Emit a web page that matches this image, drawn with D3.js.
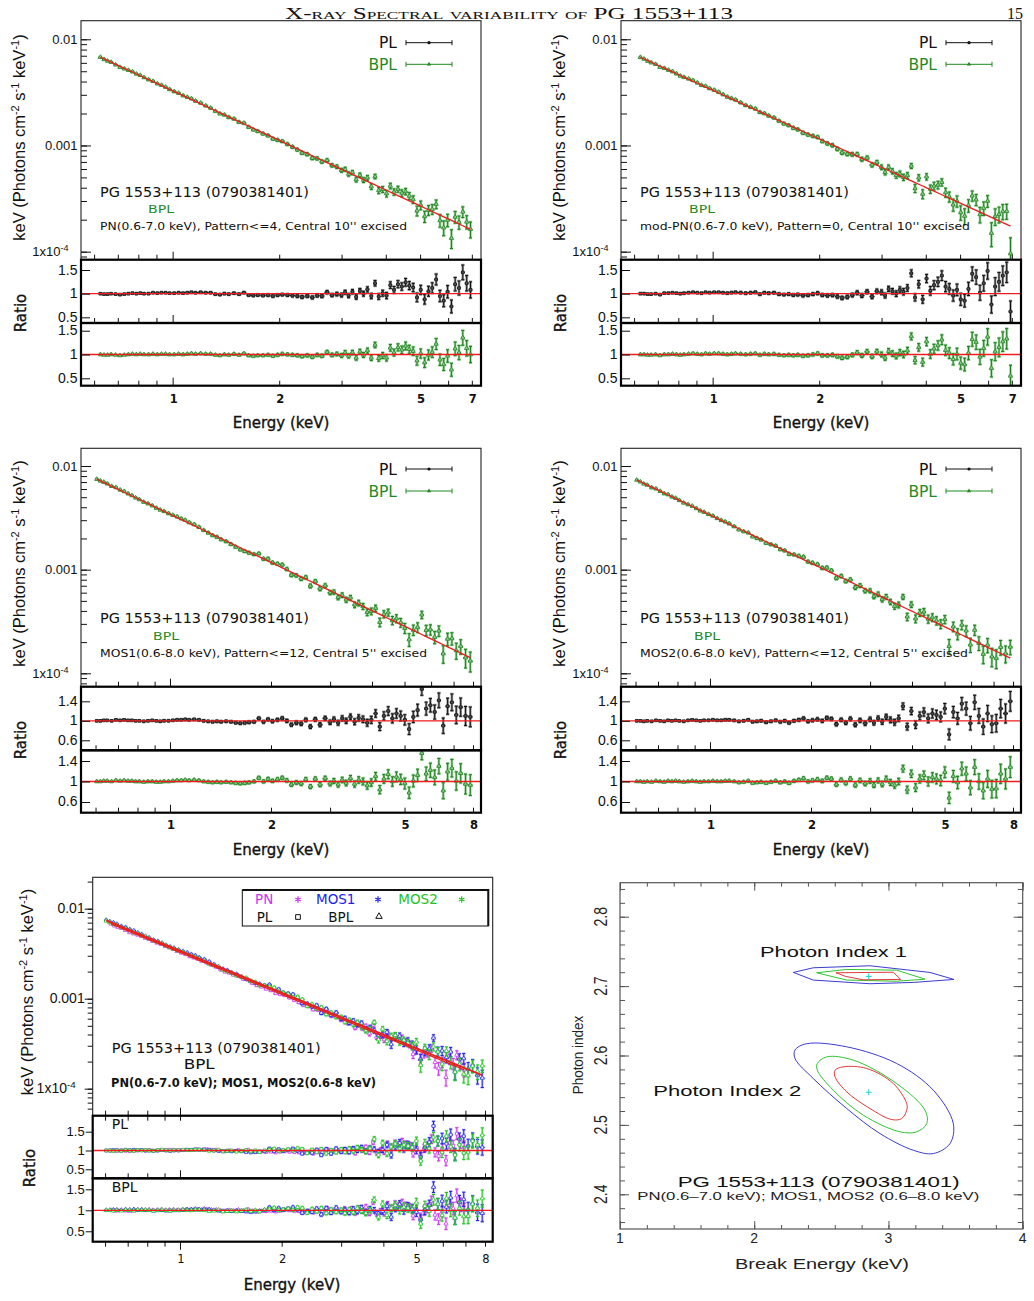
<!DOCTYPE html>
<html>
<head>
<meta charset="utf-8">
<script src="https://cdn.jsdelivr.net/npm/d3@7"></script>
<style>
  body { margin: 0; background: #fff; }
</style>
</head>
<body>
<svg id="fig" width="1034" height="1301"></svg>
<script>

// ---------------------------
// DATA
// ---------------------------

// bin centres (keV)
const lowPnE = [0.625,0.64,0.655,0.67,0.69,0.71,0.73,0.75,0.77,0.79,0.81,0.83,0.855,0.88,0.905,0.93,0.955,0.98,1.01,1.04,1.07,1.10,1.13,1.16,1.20,1.24,1.28,1.32,1.36,1.40,1.44,1.49,1.54,1.59,1.64,1.69,1.74,1.80,1.86,1.92,1.98,2.04,2.11,2.18,2.25,2.32,2.40,2.48,2.56,2.64,2.73,2.82,2.91];
const hiPnE = [3.00,3.07,3.14,3.22,3.30,3.38,3.46,3.55,3.64,3.73,3.82,3.92,4.02,4.12,4.22,4.33,4.44,4.55,4.66,4.78,4.90,5.02,5.15,5.28,5.41,5.55,5.69,5.83,5.98,6.13,6.28,6.44,6.60,6.77,6.94];
const lowMosE = [0.605,0.62,0.635,0.65,0.67,0.69,0.71,0.73,0.75,0.77,0.79,0.81,0.835,0.86,0.885,0.91,0.935,0.96,0.99,1.02,1.05,1.08,1.11,1.14,1.18,1.22,1.26,1.30,1.34,1.38,1.42,1.47,1.52,1.57,1.62,1.67,1.72,1.78,1.84,1.90,1.96,2.02,2.09,2.16,2.23,2.30,2.38,2.46,2.54,2.62,2.71,2.80,2.90];
const hiMosE = [3.00,3.08,3.17,3.26,3.35,3.45,3.55,3.65,3.76,3.87,3.98,4.10,4.22,4.34,4.47,4.60,4.73,4.87,5.01,5.16,5.31,5.47,5.63,5.80,5.97,6.15,6.33,6.52,6.72,6.92,7.13,7.35,7.60,7.85];
const pnE = lowPnE.concat(hiPnE);
const mosE = lowMosE.concat(hiMosE);

// data/model ratios
const pnRatioPL = [1.00,0.99,0.99,1.00,0.99,0.98,0.99,1.00,1.01,1.00,1.01,1.00,1.00,1.02,1.01,1.02,1.02,1.01,1.01,1.02,1.01,1.02,1.03,1.02,1.03,1.02,1.02,0.99,0.98,1.00,0.99,1.01,0.99,1.02,0.97,0.96,0.97,0.96,0.97,0.95,0.97,0.98,0.97,0.96,0.95,0.93,0.95,0.92,0.96,0.95,1.03,0.97,0.99,
  0.97,1.03,0.96,1.04,0.93,1.06,1.00,1.09,0.95,1.22,0.94,1.01,0.96,1.18,1.08,1.20,1.15,1.24,1.17,1.13,0.92,1.08,0.88,1.05,1.12,1.30,0.95,0.85,1.04,0.73,1.20,1.12,1.45,1.22,1.08];
const pnRatioBPL = [1.00,0.99,0.99,1.00,0.99,0.98,0.99,1.00,1.01,1.00,1.01,1.00,1.00,1.01,1.00,1.01,1.01,1.00,1.00,1.01,1.00,1.01,1.02,1.01,1.02,1.01,1.01,0.99,0.98,1.00,0.99,1.01,0.99,1.02,0.98,0.97,0.98,0.98,0.99,0.97,0.99,1.01,1.00,0.99,0.98,0.96,0.98,0.95,0.99,0.97,1.05,0.99,1.01,
  0.98,1.04,0.97,1.04,0.93,1.06,0.99,1.08,0.93,1.20,0.92,0.98,0.93,1.14,1.04,1.15,1.10,1.18,1.11,1.07,0.87,1.02,0.83,0.99,1.05,1.22,0.89,0.79,0.97,0.68,1.12,1.04,1.35,1.13,1.00];
const modPnRatioPL = [1.00,1.00,0.99,0.99,1.00,0.98,1.01,1.01,1.02,1.01,1.00,1.01,1.02,1.03,1.02,1.01,1.03,1.02,1.03,1.03,1.02,1.01,1.02,1.03,1.02,1.01,1.02,1.03,0.99,1.02,1.01,1.02,0.99,0.98,0.99,0.97,0.98,0.96,0.97,0.99,1.01,0.97,0.96,0.97,0.94,0.91,0.93,0.97,1.02,0.96,1.04,0.94,1.05,
  1.03,0.96,1.10,1.05,1.00,1.08,1.04,1.12,1.43,0.92,1.20,0.88,1.32,1.06,1.18,1.25,1.38,1.15,1.10,0.96,1.08,0.88,0.85,1.10,1.42,1.35,1.02,1.22,1.48,0.77,1.15,1.25,1.38,1.45,0.62];
const modPnRatioBPL = [1.00,1.00,0.99,0.99,1.00,0.98,1.00,1.00,1.01,1.00,0.99,1.00,1.01,1.02,1.01,1.00,1.02,1.01,1.02,1.02,1.01,1.00,1.01,1.02,1.01,1.00,1.01,1.02,0.99,1.01,1.00,1.01,0.99,0.98,0.99,0.98,0.99,0.97,0.98,1.00,1.02,0.98,0.98,0.99,0.96,0.93,0.95,0.99,1.04,0.98,1.06,0.96,1.06,
  1.00,0.93,1.07,1.02,0.97,1.04,1.00,1.08,1.38,0.88,1.15,0.84,1.27,1.01,1.12,1.19,1.31,1.09,1.03,0.90,1.01,0.82,0.79,1.03,1.32,1.26,0.95,1.13,1.37,0.71,1.06,1.15,1.27,1.33,0.55];
const mos1RatioPL = [1.00,1.00,1.01,1.01,1.00,1.02,1.01,1.02,1.01,1.01,1.00,1.00,0.99,1.00,1.01,1.00,0.99,1.00,1.00,1.01,1.02,1.02,1.03,1.02,1.03,1.02,1.00,0.99,0.98,0.99,0.98,0.99,0.98,0.96,0.95,0.96,0.97,0.98,1.05,0.98,1.03,0.99,1.02,1.05,1.00,0.92,0.96,0.94,1.02,0.88,1.03,0.92,1.05,
  0.97,1.03,0.96,1.05,1.00,1.08,0.98,1.06,1.03,0.96,1.02,1.15,0.88,1.10,1.20,1.05,1.15,1.10,1.02,0.83,1.08,1.22,1.65,1.25,1.32,1.18,1.42,0.90,1.30,1.38,1.12,1.28,1.10,1.08];
const mos1RatioBPL = [1.00,1.00,1.01,1.01,1.00,1.02,1.01,1.02,1.01,1.01,1.00,1.00,0.99,1.00,1.00,0.99,0.99,1.00,1.00,1.01,1.02,1.02,1.03,1.02,1.03,1.02,1.00,0.99,0.98,0.99,0.98,0.99,0.98,0.97,0.96,0.97,0.98,1.00,1.07,1.00,1.05,1.01,1.04,1.07,1.02,0.94,0.98,0.96,1.04,0.90,1.05,0.94,1.06,
  0.96,1.01,0.94,1.03,0.97,1.06,0.95,1.03,1.00,0.92,0.98,1.10,0.84,1.05,1.14,1.00,1.09,1.04,0.96,0.78,1.01,1.12,1.55,1.15,1.22,1.08,1.30,0.82,1.19,1.26,1.01,1.16,0.95,0.93];
const mos2RatioPL = [1.00,1.00,0.99,1.00,0.99,1.01,1.00,0.99,1.01,1.00,1.01,1.00,0.99,1.01,1.02,1.01,1.00,1.01,1.01,1.02,1.01,1.01,1.02,1.02,1.01,0.99,1.00,1.02,0.98,0.99,1.00,0.97,0.99,1.01,0.98,1.00,0.96,1.00,1.02,1.05,0.99,1.01,1.03,1.00,1.06,1.04,0.93,1.02,0.96,1.04,0.92,1.01,0.95,
  1.03,0.96,1.05,0.98,1.08,1.02,0.97,1.05,1.30,0.88,1.20,0.92,1.10,1.18,1.05,1.15,1.12,1.08,1.25,0.72,1.18,1.05,1.35,1.25,0.95,1.38,1.10,0.88,1.15,0.93,0.95,1.25,1.15,1.40];
const mos2RatioBPL = [1.00,1.00,0.99,1.00,0.99,1.01,1.00,0.99,1.01,1.00,1.01,1.00,0.99,1.00,1.01,1.00,0.99,1.00,1.00,1.01,1.00,1.00,1.01,1.01,1.00,0.98,0.99,1.01,0.97,0.98,0.99,0.97,0.99,1.01,0.98,1.00,0.97,1.01,1.03,1.06,1.00,1.02,1.04,1.01,1.07,1.05,0.94,1.03,0.97,1.05,0.93,1.02,0.96,
  1.01,0.93,1.02,0.95,1.05,0.98,0.93,1.00,1.25,0.84,1.15,0.88,1.05,1.12,1.00,1.08,1.05,1.02,1.18,0.68,1.10,0.98,1.25,1.15,0.88,1.28,1.00,0.82,1.05,0.85,0.86,1.15,1.05,1.28];

// 1-sigma errors on the ratios
const pnErr = [0.010,0.010,0.010,0.010,0.010,0.010,0.010,0.011,0.011,0.011,0.011,0.011,0.012,0.012,0.012,0.012,0.012,0.012,0.012,0.013,0.013,0.013,0.014,0.014,0.014,0.015,0.015,0.015,0.016,0.016,0.016,0.017,0.017,0.018,0.018,0.019,0.020,0.021,0.022,0.023,0.024,0.025,0.026,0.027,0.028,0.029,0.030,0.031,0.032,0.033,0.034,0.035,0.037,
  0.040,0.042,0.044,0.046,0.048,0.050,0.052,0.054,0.056,0.058,0.060,0.063,0.066,0.069,0.072,0.075,0.078,0.081,0.084,0.088,0.092,0.096,0.100,0.105,0.110,0.115,0.120,0.125,0.130,0.136,0.142,0.148,0.155,0.162,0.170];
const modPnErr = [0.012,0.012,0.012,0.012,0.012,0.012,0.013,0.013,0.013,0.013,0.014,0.014,0.014,0.014,0.015,0.015,0.015,0.015,0.015,0.016,0.016,0.017,0.017,0.018,0.018,0.019,0.019,0.020,0.020,0.021,0.021,0.022,0.022,0.023,0.024,0.025,0.026,0.027,0.028,0.029,0.030,0.031,0.032,0.033,0.034,0.035,0.036,0.038,0.040,0.041,0.043,0.045,0.047,
  0.050,0.052,0.055,0.058,0.060,0.063,0.066,0.069,0.072,0.075,0.078,0.082,0.086,0.090,0.094,0.098,0.102,0.107,0.112,0.117,0.122,0.127,0.133,0.139,0.145,0.151,0.158,0.165,0.172,0.180,0.188,0.196,0.205,0.214,0.224];
const mosErr = [0.011,0.011,0.011,0.011,0.011,0.011,0.011,0.012,0.012,0.012,0.012,0.012,0.013,0.013,0.013,0.013,0.013,0.014,0.014,0.014,0.015,0.015,0.015,0.016,0.016,0.017,0.017,0.018,0.018,0.019,0.019,0.020,0.020,0.021,0.022,0.023,0.024,0.025,0.026,0.027,0.028,0.029,0.030,0.031,0.032,0.033,0.034,0.035,0.036,0.038,0.039,0.041,0.043,
  0.045,0.047,0.049,0.052,0.054,0.057,0.060,0.063,0.066,0.069,0.072,0.076,0.080,0.084,0.088,0.092,0.096,0.100,0.105,0.110,0.115,0.120,0.126,0.132,0.138,0.144,0.150,0.157,0.164,0.171,0.178,0.186,0.194,0.202];

// fitted model (red line): E*F(E) at 1 keV and log-log slope, per camera
const modelNames = ["PN", "mod-PN", "MOS1", "MOS2"];
const modelNormAt1keV = [0.00327, 0.00331, 0.00343, 0.00337];
const modelSlope = [-1.55, -1.52, -1.547, -1.543];

// tick labels
const pnTickLabels = [1, 2, 5, 7];
const mosTickLabels = [1, 2, 5, 8];
const specTickLabels = [0.01, 0.001, 0.0001];
const ratioTicksWide = [0.5, 1, 1.5];
const ratioTicksNarrow = [0.6, 1, 1.4];

// confidence contours [break energy, photon index]; red 68%, green 90%, blue 99%
const index1Red = [[2.609,2.7192],[3.036,2.720],[3.091,2.7096],[2.813,2.7091],[2.68,2.714]];
const index1Green = [[2.465,2.7192],[2.689,2.724],[3.061,2.723],[3.272,2.710],[3.061,2.707],[2.689,2.7087]];
const index1Blue = [[2.291,2.7197],[2.44,2.7264],[2.862,2.7293],[3.309,2.7197],[3.488,2.7096],[3.185,2.7053],[2.862,2.7034],[2.44,2.7087]];
const index2Red = [[2.602,2.5788],[2.664,2.5837],[2.838,2.5813],[3.036,2.5596],[3.136,2.5308],[3.136,2.5212],[3.098,2.5091],[3.024,2.5077],[2.862,2.5236],[2.689,2.5476],[2.602,2.5692]];
const index2Green = [[2.470,2.5885],[2.540,2.598],[2.738,2.5933],[3.061,2.5596],[3.272,2.5212],[3.285,2.5019],[3.210,2.49],[3.086,2.49],[2.813,2.5139],[2.589,2.55],[2.470,2.5788]];
const index2Blue = [[2.304,2.608],[2.391,2.617],[2.689,2.6125],[3.061,2.5885],[3.334,2.55],[3.483,2.502],[3.458,2.473],[3.334,2.4587],[3.185,2.4635],[2.937,2.4875],[2.689,2.5236],[2.44,2.5668],[2.304,2.5957]];
const bestBreakE = [2.853, 2.853];
const bestGamma = [2.714, 2.547];
const contourXTicks = [1, 2, 3, 4];
const contourYTicks = [2.4, 2.5, 2.6, 2.7, 2.8];


// ---------------------------
// HELPERS
// ---------------------------

const svg = d3.select("#fig");
const SANS = "'DejaVu Sans', sans-serif";
const ARIAL = "'Liberation Sans', Arial, sans-serif";
const GREEN = "#1e7e1e";
const RED = "#ee1c1c";

const model = k => e => modelNormAt1keV[k] * Math.pow(e, modelSlope[k]);

// points with bin edges half way (in log) between neighbouring centres
const buildPoints = (E, vals, errs, m) => E.map((e, i) => {
    const prev = i > 0 ? E[i - 1] : e * e / E[i + 1];
    const next = i < E.length - 1 ? E[i + 1] : e * e / E[i - 1];
    const f = m ? m(e) : 1;
    return {
        e, lo: Math.sqrt(prev * e), hi: Math.sqrt(e * next),
        v: vals[i] * f, vLo: (vals[i] - errs[i]) * f, vHi: (vals[i] + errs[i]) * f
    };
});

const drawErrPoints = (g, x, y, pts, st) => {
    const path = d => {
        const xe = x(d.e), yt = y(d.vHi), yb = y(d.vLo), c = 1.6;
        return `M${x(d.lo)},${y(d.v)}H${x(d.hi)}M${xe},${yt}V${yb}` +
            `M${xe - c},${yt}H${xe + c}M${xe - c},${yb}H${xe + c}`;
    };
    if (st.halo) {
        g.append("g").selectAll("path").data(pts).join("path")
            .attr("d", path).attr("fill", "none")
            .attr("stroke", st.halo).attr("stroke-width", 2.6)
            .attr("stroke-opacity", st.haloOpacity || 1);
    }
    g.append("g").selectAll("path").data(pts).join("path")
        .attr("d", path).attr("fill", "none")
        .attr("stroke", st.color).attr("stroke-width", 1);
    g.append("g").selectAll("path").data(pts).join("path")
        .attr("transform", d => `translate(${x(d.e)},${y(d.v)})`)
        .attr("d", d3.symbol(st.symbol, st.size)())
        .attr("fill", st.fill).attr("stroke", st.color).attr("stroke-width", 0.7);
};

const label = (g, o) => {
    const t = g.append("text")
        .attr("x", o.x).attr("y", o.y)
        .attr("font-family", o.font || SANS)
        .attr("font-size", o.size)
        .attr("fill", o.color || "#111")
        .attr("text-anchor", o.anchor || "start")
        .text(o.text);
    if (o.weight) t.attr("font-weight", o.weight);
    if (o.len) t.attr("textLength", o.len).attr("lengthAdjust", "spacingAndGlyphs");
    if (o.heavy) t.attr("stroke", o.color || "#111").attr("stroke-width", o.heavy);
    return t;
};

const tickAxis = (g, axis, transform) => {
    const a = g.append("g").attr("transform", transform).call(axis);
    a.select(".domain").remove();
    a.selectAll("text").remove();
    a.selectAll("line").attr("stroke", "#111").attr("stroke-width", 1);
    return a;
};

const fluxTitle = (g, x, y) => {
    const t = g.append("text")
        .attr("transform", `translate(${x},${y}) rotate(-90)`)
        .attr("text-anchor", "middle")
        .attr("font-family", ARIAL).attr("font-size", 16.5).attr("fill", "#111");
    const parts = [["keV (Photons cm", 0], ["-2", 1], [" s", 0], ["-1", 1], [" keV", 0], ["-1", 1], [")", 0]];
    let prev = 0;
    parts.forEach(([s, sup]) => {
        t.append("tspan").attr("dy", (sup - prev) * -6).attr("font-size", sup ? 11 : 16.5).text(s);
        prev = sup;
    });
};

const rotTitle = (g, x, y, text, size) => {
    g.append("text")
        .attr("transform", `translate(${x},${y}) rotate(-90)`)
        .attr("text-anchor", "middle")
        .attr("font-family", SANS).attr("font-size", size).attr("fill", "#111")
        .attr("stroke", "#111").attr("stroke-width", 0.35)
        .text(text);
};


// ---------------------------
// SPECTRUM + RATIO PANEL
// ---------------------------

const drawSpectrumPanel = (p) => {

    const g = svg.append("g");
    const w = p.right - p.left;

    const x = d3.scaleLog().domain(p.xDomain).range([p.left, p.right]);
    const yS = d3.scaleLog().domain(p.specDomain).range([p.specBottom, p.top]);
    const yR1 = d3.scaleLinear().domain(p.r1Domain).range([p.r1Bottom, p.specBottom]);
    const yR2 = d3.scaleLinear().domain(p.r2Domain).range([p.r2Bottom, p.r1Bottom]);

    // clip boxes
    const boxes = [[p.top, p.specBottom], [p.specBottom, p.r1Bottom], [p.r1Bottom, p.r2Bottom]];
    const layers = boxes.map((b, i) => {
        svg.append("clipPath").attr("id", `${p.id}-clip${i}`)
            .append("rect").attr("x", p.left).attr("y", b[0])
            .attr("width", w).attr("height", b[1] - b[0]);
        return g.append("g").attr("clip-path", `url(#${p.id}-clip${i})`);
    });

    // spectrum points and model
    p.sets.forEach(s => drawErrPoints(layers[0], x, yS, buildPoints(s.E, s.bpl, s.err, model(s.model)), s.specStyle));
    p.sets.forEach(s => {
        const m = model(s.model);
        layers[0].append("path").datum(s.E)
            .attr("d", d3.line().x(d => x(d)).y(d => yS(m(d))))
            .attr("fill", "none").attr("stroke", RED).attr("stroke-width", 1.3);
    });

    // ratios
    [[layers[1], yR1, "pl", "plStyle"], [layers[2], yR2, "bpl", "bplStyle"]].forEach(([layer, yR, key, st]) => {
        p.sets.forEach(s => drawErrPoints(layer, x, yR, buildPoints(s.E, s[key], s.err, null), s[st]));
        layer.append("line")
            .attr("x1", p.left).attr("x2", p.right)
            .attr("y1", yR(1)).attr("y2", yR(1))
            .attr("stroke", RED).attr("stroke-width", 1.3);
    });

    // ticks
    const allE = x.ticks();
    const minorE = allE.filter(d => d !== 1 && d !== 10);

    [p.specBottom, p.r1Bottom].forEach(yy => {
        tickAxis(g, d3.axisBottom(x).tickValues(minorE).tickSize(-5), `translate(0,${yy})`);
        tickAxis(g, d3.axisBottom(x).tickValues([1]).tickSize(-8), `translate(0,${yy})`);
    });
    const bottomSize = p.outside ? 5 : -5;
    tickAxis(g, d3.axisBottom(x).tickValues(minorE).tickSize(bottomSize), `translate(0,${p.r2Bottom})`);
    tickAxis(g, d3.axisBottom(x).tickValues([1]).tickSize(bottomSize * 1.6), `translate(0,${p.r2Bottom})`);
    if (p.outside) {
        tickAxis(g, d3.axisTop(x).tickValues(allE).tickSize(-5), `translate(0,${p.specBottom})`);
    }

    const allF = yS.ticks();
    const majorF = allF.filter(d => Math.abs(Math.log10(d) - Math.round(Math.log10(d))) < 1e-6);
    tickAxis(g, d3.axisLeft(yS).tickValues(allF).tickSize(p.outside ? 5 : -6), `translate(${p.left},0)`);
    tickAxis(g, d3.axisLeft(yS).tickValues(majorF).tickSize(p.outside ? 8 : -10), `translate(${p.left},0)`);
    tickAxis(g, d3.axisLeft(yR1).tickValues(p.rTicks).tickSize(p.outside ? 7 : -9), `translate(${p.left},0)`);
    tickAxis(g, d3.axisLeft(yR2).tickValues(p.rTicks).tickSize(p.outside ? 7 : -9), `translate(${p.left},0)`);

    // frames
    g.append("rect").attr("x", p.left).attr("y", p.top)
        .attr("width", w).attr("height", p.specBottom - p.top)
        .attr("fill", "none").attr("stroke", "#222").attr("stroke-width", 1.1);
    [[p.specBottom, p.r1Bottom], [p.r1Bottom, p.r2Bottom]].forEach(([a, b]) => {
        g.append("rect").attr("x", p.left).attr("y", a)
            .attr("width", w).attr("height", b - a)
            .attr("fill", "none").attr("stroke", "#000").attr("stroke-width", 2.2);
    });

    // tick labels
    const tx = p.left - p.labelGap;
    specTickLabels.forEach(v => {
        const t = label(g, { x: tx, y: yS(v) + 4.5, text: v === 0.0001 ? "1x10" : String(v),
            size: p.specTickSize, font: ARIAL, anchor: "end" });
        if (v === 0.0001) {
            t.attr("x", tx - 9);
            t.append("tspan").attr("dy", -5).attr("font-size", p.specTickSize * 0.7).text("-4");
        }
    });
    [yR1, yR2].forEach(yR => p.rTicks.forEach(v => {
        label(g, { x: tx, y: yR(v) + 4.5, text: String(v), size: p.ratioTickSize, font: ARIAL, anchor: "end" });
    }));
    p.xLabels.forEach(v => {
        label(g, { x: x(v) + 1, y: p.xLabelY, text: String(v), size: 11.5, anchor: "middle", weight: p.outside ? null : "bold" });
    });

    // axis titles
    fluxTitle(g, p.fluxTitleX, p.fluxTitleY);
    rotTitle(g, p.ratioTitleX, p.ratioTitleY, "Ratio", 15);
    label(g, { x: p.energyTitleX, y: p.energyTitleY, text: "Energy (keV)", size: 15, anchor: "middle", heavy: 0.35 });

    // annotations
    p.notes.forEach(n => label(g, n));
    if (p.legend) p.legend(g);
};


// ---------------------------
// PANEL SET-UP
// ---------------------------

const blackStyle = { color: "#111", halo: "#9a9a9a", fill: "#555", symbol: d3.symbolSquare, size: 7 };
const greenStyle = { color: GREEN, halo: "#9ed49e", fill: "#8fcf8f", symbol: d3.symbolTriangle, size: 8 };

const singleLegend = (dx, y1, y2) => g => {
    [["PL", "#111", y1, d3.symbolCircle], ["BPL", "#1f8a1f", y2, d3.symbolTriangle]].forEach(([t, c, y, sym]) => {
        label(g, { x: dx + 316, y: y + 5.5, text: t, size: 15.5, color: c, anchor: "end" });
        g.append("path").attr("d", `M${dx + 325},${y}H${dx + 371}M${dx + 325},${y - 2.5}V${y + 2.5}M${dx + 371},${y - 2.5}V${y + 2.5}`)
            .attr("stroke", c).attr("stroke-width", 1).attr("fill", "none");
        g.append("path").attr("transform", `translate(${dx + 348},${y})`)
            .attr("d", d3.symbol(sym, 8)()).attr("fill", c);
    });
};

const singleNotes = (dx, y0, bplX, sub, subLen) => [
    { x: dx + 19, y: y0, text: "PG 1553+113 (0790381401)", size: 14, len: 209 },
    { x: dx + bplX, y: y0 + 16.5, text: "BPL", size: 10.5, color: "#1f8a1f", len: 26 },
    { x: dx + 19, y: y0 + 33.5, text: sub, size: 11, len: subLen }
];

const topRow = { top: 20.7, specBottom: 259.7, r1Bottom: 323, r2Bottom: 385.7,
    xDomain: [0.551, 7.43], specDomain: [8.4e-5, 0.01496], r1Domain: [0.38, 1.718], r2Domain: [0.345, 1.662],
    rTicks: ratioTicksWide, xLabels: pnTickLabels, xLabelY: 403, labelGap: 3.5, specTickSize: 13, ratioTickSize: 14,
    fluxTitleY: 137.5, ratioTitleY: 313, energyTitleY: 428 };

const midRow = { top: 448.3, specBottom: 686.7, r1Bottom: 750.3, r2Bottom: 812.7,
    xDomain: [0.543, 8.45], specDomain: [7.43e-5, 0.01482], r1Domain: [0.395, 1.70], r2Domain: [0.391, 1.609],
    rTicks: ratioTicksNarrow, xLabels: mosTickLabels, xLabelY: 829, labelGap: 3.5, specTickSize: 13, ratioTickSize: 14,
    fluxTitleY: 563.5, ratioTitleY: 740, energyTitleY: 855 };

const single = (row, id, dx, E, pl, bpl, err, k, noteY, bplX, sub, subLen, legY) => Object.assign({}, row, {
    id, left: 81 + dx, right: 481 + dx,
    sets: [{ E, pl, bpl, err, model: k, specStyle: greenStyle, plStyle: blackStyle, bplStyle: greenStyle }],
    fluxTitleX: 25 + dx, ratioTitleX: 26 + dx, energyTitleX: 281 + dx,
    notes: singleNotes(81 + dx, noteY, bplX, sub, subLen),
    legend: singleLegend(81 + dx, legY[0], legY[1])
});

// header
label(svg, { x: 285, y: 18.5, text: "X-ray Spectral variability of PG 1553+113", size: 16,
    font: "'Liberation Serif', 'DejaVu Serif', serif", len: 448 }).style("font-variant", "small-caps");
label(svg, { x: 1023, y: 18.5, text: "15", size: 16, font: "'Liberation Serif', serif", anchor: "end" });

drawSpectrumPanel(single(topRow, "tl", 0, pnE, pnRatioPL, pnRatioBPL, pnErr, 0, 196.7, 67,
    "PN(0.6-7.0 keV), Pattern<=4, Central 10'' excised", 307, [42.7, 64.3]));
drawSpectrumPanel(single(topRow, "tr", 540, pnE, modPnRatioPL, modPnRatioBPL, modPnErr, 1, 196.5, 68,
    "mod-PN(0.6-7.0 keV), Pattern=0, Central 10'' excised", 330, [42.7, 64.3]));
drawSpectrumPanel(single(midRow, "ml", 0, mosE, mos1RatioPL, mos1RatioBPL, mosErr, 2, 623, 72,
    "MOS1(0.6-8.0 keV), Pattern<=12, Central 5'' excised", 327, [469, 491]));
drawSpectrumPanel(single(midRow, "mr", 540, mosE, mos2RatioPL, mos2RatioBPL, mosErr, 3, 623, 73,
    "MOS2(0.6-8.0 keV), Pattern<=12, Central 5'' excised", 328, [469, 491]));


// ---------------------------
// JOINT FIT PANEL (PN + MOS1 + MOS2)
// ---------------------------

const camColors = ["#cc33ee", "#2222ee", "#22c422"];
const camStyle = (c, sym) => ({ color: c, halo: c, haloOpacity: 0.25, fill: "#fff", symbol: sym, size: 8 });

const jointLegend = g => {
    g.append("rect").attr("x", 242.3).attr("y", 890).attr("width", 246).attr("height", 36)
        .attr("fill", "#fff").attr("stroke", "#111").attr("stroke-width", 1);
    g.append("path").attr("d", "M242.3,890H488.3V926").attr("fill", "none").attr("stroke", "#111").attr("stroke-width", 2);
    [["PN", 255, 298], ["MOS1", 316, 378], ["MOS2", 398.3, 461.7]].forEach(([t, tx, sx], i) => {
        label(g, { x: tx, y: 904, text: t, size: 13.5, color: camColors[i] });
        g.append("path").attr("transform", `translate(${sx},${899.5})`)
            .attr("d", d3.symbol(d3.symbolAsterisk, 28)())
            .attr("fill", "none").attr("stroke", camColors[i]).attr("stroke-width", 1.2);
    });
    label(g, { x: 256.7, y: 922, text: "PL", size: 13.5 });
    label(g, { x: 328.3, y: 922, text: "BPL", size: 13.5 });
    g.append("path").attr("transform", "translate(298,917)").attr("d", d3.symbol(d3.symbolSquare, 22)())
        .attr("fill", "none").attr("stroke", "#111").attr("stroke-width", 1);
    g.append("path").attr("transform", "translate(379,916.5)").attr("d", d3.symbol(d3.symbolTriangle, 18)())
        .attr("fill", "none").attr("stroke", "#111").attr("stroke-width", 1);
};

drawSpectrumPanel({
    id: "bl", left: 92.7, right: 492.7, top: 877.3, specBottom: 1115.7, r1Bottom: 1178.3, r2Bottom: 1241.7,
    xDomain: [0.5515, 8.43], specDomain: [5.01e-5, 0.02233], r1Domain: [0.261, 1.925], r2Domain: [0.252, 1.762],
    outside: true, rTicks: ratioTicksWide, xLabels: mosTickLabels, xLabelY: 1263, labelGap: 8,
    specTickSize: 14, ratioTickSize: 13,
    sets: [
        { E: pnE, pl: pnRatioPL, bpl: pnRatioBPL, err: pnErr, model: 0,
          specStyle: camStyle(camColors[0], d3.symbolTriangle), plStyle: camStyle(camColors[0], d3.symbolSquare), bplStyle: camStyle(camColors[0], d3.symbolTriangle) },
        { E: mosE, pl: mos1RatioPL, bpl: mos1RatioBPL, err: mosErr, model: 2,
          specStyle: camStyle(camColors[1], d3.symbolTriangle), plStyle: camStyle(camColors[1], d3.symbolSquare), bplStyle: camStyle(camColors[1], d3.symbolTriangle) },
        { E: mosE, pl: mos2RatioPL, bpl: mos2RatioBPL, err: mosErr, model: 3,
          specStyle: camStyle(camColors[2], d3.symbolTriangle), plStyle: camStyle(camColors[2], d3.symbolSquare), bplStyle: camStyle(camColors[2], d3.symbolTriangle) }
    ],
    fluxTitleX: 33, fluxTitleY: 992, ratioTitleX: 35, ratioTitleY: 1168, energyTitleX: 292, energyTitleY: 1290,
    notes: [
        { x: 111.7, y: 1052.7, text: "PG 1553+113 (0790381401)", size: 14, len: 209 },
        { x: 183.7, y: 1069.3, text: "BPL", size: 14, len: 31 },
        { x: 111, y: 1086.7, text: "PN(0.6-7.0 keV); MOS1, MOS2(0.6-8 keV)", size: 11.5, weight: "bold", len: 265 },
        { x: 111.7, y: 1129, text: "PL", size: 14 },
        { x: 111.7, y: 1192.3, text: "BPL", size: 14 }
    ],
    legend: jointLegend
});


// ---------------------------
// CONTOUR PANEL
// ---------------------------

const drawContours = () => {

    const g = svg.append("g");
    const L = 620, R = 1022.7, T = 882.7, B = 1229;
    const cx = d3.scaleLinear().domain([1, 4]).range([L, R]);
    const cy = d3.scaleLinear().domain([2.35, 2.849]).range([B, T]);
    const frame = "#555";

    const minorX = d3.range(1, 4.001, 0.2);
    const minorY = d3.range(2.36, 2.845, 0.02);

    const styleTicks = a => a.selectAll("line").attr("stroke", frame);
    styleTicks(tickAxis(g, d3.axisBottom(cx).tickValues(minorX).tickSize(-4), `translate(0,${B})`));
    styleTicks(tickAxis(g, d3.axisBottom(cx).tickValues(contourXTicks).tickSize(-8), `translate(0,${B})`));
    styleTicks(tickAxis(g, d3.axisTop(cx).tickValues(minorX).tickSize(-4), `translate(0,${T})`));
    styleTicks(tickAxis(g, d3.axisTop(cx).tickValues(contourXTicks).tickSize(-8), `translate(0,${T})`));
    styleTicks(tickAxis(g, d3.axisLeft(cy).tickValues(minorY).tickSize(-5), `translate(${L},0)`));
    styleTicks(tickAxis(g, d3.axisLeft(cy).tickValues(contourYTicks).tickSize(-9), `translate(${L},0)`));
    styleTicks(tickAxis(g, d3.axisRight(cy).tickValues(minorY).tickSize(-5), `translate(${R},0)`));
    styleTicks(tickAxis(g, d3.axisRight(cy).tickValues(contourYTicks).tickSize(-9), `translate(${R},0)`));

    g.append("rect").attr("x", L).attr("y", T).attr("width", R - L).attr("height", B - T)
        .attr("fill", "none").attr("stroke", frame).attr("stroke-width", 1.2);

    const polyLine = d3.line().x(d => cx(d[0])).y(d => cy(d[1])).curve(d3.curveLinearClosed);
    const smoothLine = d3.line().x(d => cx(d[0])).y(d => cy(d[1])).curve(d3.curveCatmullRomClosed.alpha(0.5));

    [[index1Blue, "#3b3bd0", polyLine], [index1Green, "#2fc42f", polyLine], [index1Red, "#e03a3a", polyLine],
     [index2Blue, "#3b3bd0", smoothLine], [index2Green, "#2fc42f", smoothLine], [index2Red, "#e03a3a", smoothLine]]
        .forEach(([pts, c, line]) => {
            g.append("path").datum(pts).attr("d", line)
                .attr("fill", "none").attr("stroke", c).attr("stroke-width", 1);
        });

    bestBreakE.forEach((e, i) => {
        const px = cx(e), py = cy(bestGamma[i]);
        g.append("path").attr("d", `M${px - 3},${py}H${px + 3}M${px},${py - 3}V${py + 3}`)
            .attr("stroke", "#22d0d0").attr("stroke-width", 1);
    });

    // tick labels
    contourXTicks.forEach(v => label(g, { x: cx(v), y: 1243, text: String(v), size: 14, font: ARIAL, anchor: "middle", color: "#222" }));
    contourYTicks.forEach(v => {
        g.append("text")
            .attr("transform", `translate(607,${cy(v)}) scale(1.3,1) rotate(-90)`)
            .attr("text-anchor", "middle").attr("font-family", ARIAL).attr("font-size", 14).attr("fill", "#222")
            .text(v.toFixed(1));
    });
    g.append("text")
        .attr("transform", "translate(583,1055) scale(1.15,1) rotate(-90)")
        .attr("text-anchor", "middle").attr("font-family", ARIAL).attr("font-size", 13.5).attr("fill", "#222")
        .text("Photon index");

    label(g, { x: 735, y: 1269.3, text: "Break Energy (keV)", size: 14, font: ARIAL, color: "#222", len: 174 });
    label(g, { x: 760, y: 957.3, text: "Photon Index 1", size: 14, font: ARIAL, color: "#111", len: 147 });
    label(g, { x: 653.3, y: 1096, text: "Photon Index 2", size: 14, font: ARIAL, color: "#111", len: 148 });
    label(g, { x: 677.7, y: 1186.7, text: "PG 1553+113 (0790381401)", size: 15, font: ARIAL, color: "#111", len: 282 });
    label(g, { x: 637.3, y: 1199.5, text: "PN(0.6\u20137.0 keV); MOS1, MOS2 (0.6\u20138.0 keV)", size: 11, font: ARIAL, color: "#222", len: 342 });
};

drawContours();

</script>
</body>
</html>
